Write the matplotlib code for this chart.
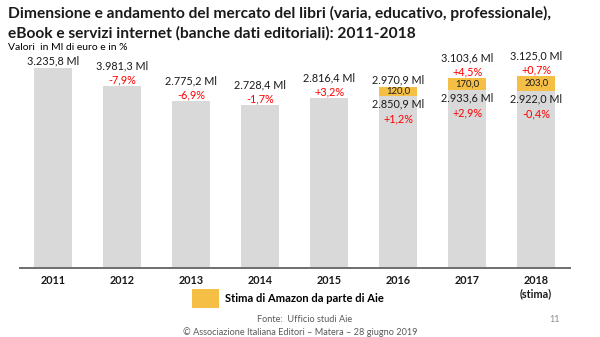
import matplotlib
matplotlib.use("Agg")
import matplotlib.pyplot as plt

plt.rcParams['font.family'] = ['Lato', 'DejaVu Sans']

years = ['2011', '2012', '2013', '2014', '2015', '2016', '2017', '2018\n(stima)']
market = [3235.8, 2981.3, 2775.2, 2728.4, 2816.4, 2850.9, 2933.6, 2922.0]
amazon = [0, 0, 0, 0, 0, 120.0, 170.0, 203.0]
market_labels = ['3.235,8 Ml', '3.981,3 Ml', '2.775,2 Ml', '2.728,4 Ml',
                 '2.816,4 Ml', '2.850,9 Ml', '2.933,6 Ml', '2.922,0 Ml']
market_pct = ['', '-7,9%', '-6,9%', '-1,7%', '+3,2%', '+1,2%', '+2,9%', '-0,4%']
amazon_labels = ['', '', '', '', '', '120,0', '170,0', '203,0']
total_labels = ['', '', '', '', '', '2.970,9 Ml', '3.103,6 Ml', '3.125,0 Ml']
total_pct = ['', '', '', '', '', '', '+4,5%', '+0,7%']

GRAY = '#D9D9D9'
ORANGE = '#F5BF45'
RED = '#FF0000'
TXT = '#1A1A1A'

W, H = 600, 337
fig = plt.figure(figsize=(W / 100, H / 100), dpi=100)
ax = fig.add_axes([20 / W, (H - 268) / H, 550 / W, 228 / H])

x = list(range(len(years)))
bw = 0.55
ax.bar(x, market, width=bw, color=GRAY, edgecolor='none', zorder=2)
amz = ax.bar(x, amazon, width=bw, bottom=market, color=ORANGE, edgecolor='none',
             zorder=2, label='Stima di Amazon da parte di Aie')

ax.set_xlim(-0.48, 7.49)
ax.set_ylim(460, 3627)
ax.set_xticks(x)
ax.set_xticklabels(years, fontsize=7.8, fontweight='bold', color=TXT)
ax.tick_params(axis='x', length=0, pad=5)
ax.set_yticks([])
for s in ['top', 'right', 'left']:
    ax.spines[s].set_visible(False)
ax.spines['bottom'].set_color('#6E6E6E')
ax.spines['bottom'].set_linewidth(1.4)
ax.spines['bottom'].set_zorder(3)

fs = 7.8
for i in x:
    top = market[i]
    if amazon[i] == 0:
        if market_pct[i]:
            ax.annotate(market_pct[i], (i, top), xytext=(0, 0.5), textcoords='offset points',
                        ha='center', va='bottom', fontsize=fs, color=RED, zorder=4)
            ax.annotate(market_labels[i], (i, top), xytext=(0, 10.5), textcoords='offset points',
                        ha='center', va='bottom', fontsize=fs, color=TXT, zorder=4)
        else:
            ax.annotate(market_labels[i], (i, top), xytext=(0, 1.5), textcoords='offset points',
                        ha='center', va='bottom', fontsize=fs, color=TXT, zorder=4)
    else:
        tot = market[i] + amazon[i]
        ax.annotate(amazon_labels[i], (i, top + amazon[i] / 2), ha='center', va='center',
                    fontsize=6.8, color=TXT, zorder=4)
        ax.annotate(market_labels[i], (i, top), xytext=(0, -2), textcoords='offset points',
                    ha='center', va='top', fontsize=fs, color=TXT, zorder=4)
        ax.annotate(market_pct[i], (i, top), xytext=(0, -12.5), textcoords='offset points',
                    ha='center', va='top', fontsize=fs, color=RED, zorder=4)
        if total_pct[i]:
            ax.annotate(total_pct[i], (i, tot), xytext=(0, 0.5), textcoords='offset points',
                        ha='center', va='bottom', fontsize=fs, color=RED, zorder=4)
            ax.annotate(total_labels[i], (i, tot), xytext=(0, 10.5), textcoords='offset points',
                        ha='center', va='bottom', fontsize=fs, color=TXT, zorder=4)
        else:
            ax.annotate(total_labels[i], (i, tot), xytext=(0, 1.5), textcoords='offset points',
                        ha='center', va='bottom', fontsize=fs, color=TXT, zorder=4)

fig.legend(handles=[amz], loc='upper left', bbox_to_anchor=(192 / W, 1 - 289 / H),
           frameon=False, handlelength=2.4, handleheight=2.2,
           handletextpad=0.55, borderpad=0, borderaxespad=0,
           prop={'weight': 'bold', 'size': 8})

fig.text(8 / W, 1 - 13 / H, 'Dimensione e andamento del mercato del libri (varia, educativo, professionale),',
         ha='left', va='center', fontsize=11.2, fontweight='bold', color=TXT)
fig.text(8 / W, 1 - 33 / H, 'eBook e servizi internet (banche dati editoriali): 2011-2018',
         ha='left', va='center', fontsize=11.2, fontweight='bold', color=TXT)
fig.text(8 / W, 1 - 48 / H, 'Valori  in Ml di euro e in %', ha='left', va='center',
         fontsize=7.5, color='#000000')

fig.text(305 / W, 1 - 319 / H, 'Fonte:  Ufficio studi Aie', ha='center', va='center',
         fontsize=6.6, color='#595959')
fig.text(300 / W, 1 - 332 / H, '© Associazione Italiana Editori – Matera – 28 giugno 2019',
         ha='center', va='center', fontsize=6.6, color='#595959')
fig.text(555 / W, 1 - 319 / H, '11', ha='center', va='center', fontsize=6.6, color='#8C8C8C')

fig.savefig('out.png', dpi=100)
